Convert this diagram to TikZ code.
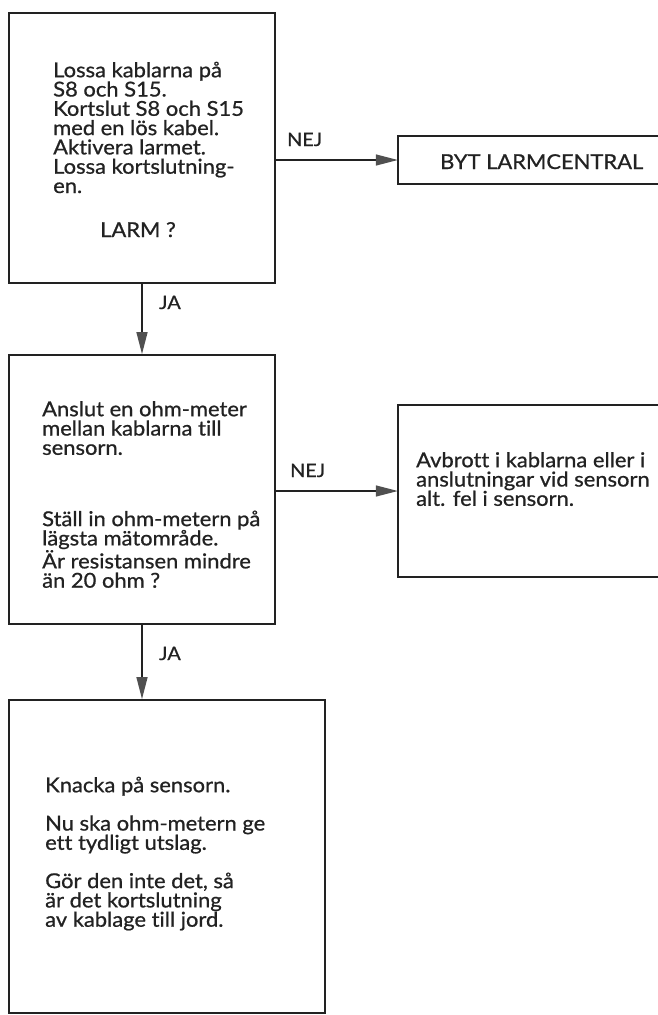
\documentclass[tikz,border=0pt]{standalone}
\usepackage{fontspec}
\setmainfont{Lato}[Ligatures={NoCommon,NoContextual},FakeBold=0.8,FakeStretch=1.07]
\usetikzlibrary{arrows.meta}
\definecolor{ink}{HTML}{222222}
\definecolor{headgray}{HTML}{505050}
\tikzset{
  boxline/.style={draw=ink, line width=1.8pt},
  stepbox/.style={boxline, rectangle, inner sep=0pt},
  openbox/.style={rectangle, inner sep=0pt},
  mainfont/.style={font=\fontsize{20.5}{19.3}\selectfont},
  txt/.style={inner sep=0pt, anchor=north west, align=left, text=ink, mainfont},
  one/.style={inner sep=0pt, text=ink, mainfont},
  lbl/.style={inner sep=0pt, anchor=base west, text=ink,
    font=\fontsize{18.5}{19}\selectfont},
  arr/.style={draw=ink, line width=1.4pt,
    -{Triangle[length=22pt,width=11pt,fill=headgray,color=headgray]}}
}
\newcommand{\fl}{\rule{0pt}{16pt}}
\begin{document}
\begin{tikzpicture}[x=1pt,y=-1pt]
\useasboundingbox (0,0) rectangle (658,1015);

% boxes
\node[stepbox, minimum width=266pt, minimum height=270pt] (b1) at (142,148) {};
\node[stepbox, minimum width=266pt, minimum height=269pt] (b2) at (142,489.5) {};
\node[stepbox, minimum width=316pt, minimum height=313pt] (b3) at (167,856.5) {};
\node[openbox, minimum width=260pt, minimum height=48pt] (b4) at (528,160) {};
\node[openbox, minimum width=260pt, minimum height=172pt] (b5) at (528,491) {};
\draw[boxline] (b4.north east) -- (b4.north west) -- (b4.south west) -- (b4.south east);
\draw[boxline] (b5.north east) -- (b5.north west) -- (b5.south west) -- (b5.south east);

% texts
\node[txt] (t1) at (53,61) {\fl Lossa kablarna på\\S8 och S15.\\Kortslut S8 och S15\\med en lös kabel.\\Aktivera larmet.\\Lossa kortslutning-\\en.};
\node[one, anchor=base] (t1q) at (138,237) {LARM ?};
\node[one, anchor=base west] (t4) at (440,169) {BYT LARMCENTRAL};
\node[txt] (t2) at (42,400) {\fl Anslut en ohm-meter\\mellan kablarna till\\sensorn.\\[52pt]Ställ in ohm-metern på\\lägsta mätområde.\\Är resistansen mindre\\än 20 ohm ?};
\node[txt] (t5) at (416,451) {\fl Avbrott i kablarna eller i\\anslutningar vid sensorn\\alt. fel i sensorn.};
\node[txt] (t3) at (45,776) {\fl Knacka på sensorn.\\[19pt]Nu ska ohm-metern ge\\ett tydligt utslag.\\[19pt]Gör den inte det, så\\är det kortslutning\\av kablage till jord.};

% connectors
\draw[arr] (b1.south) -- (b2.north);
\draw[arr] (b2.south) -- (b2.south |- b3.north);
\draw[arr] (b4.west -| b1.east) -- (b4.west);
\draw[arr] (b5.west -| b2.east) -- (b5.west);

% labels
\node[lbl] (ja1) at (159,309) {JA};
\node[lbl] (ja2) at (159,660) {JA};
\node[lbl] (nej1) at (287,146) {NEJ};
\node[lbl] (nej2) at (290,477) {NEJ};
\end{tikzpicture}
\end{document}
